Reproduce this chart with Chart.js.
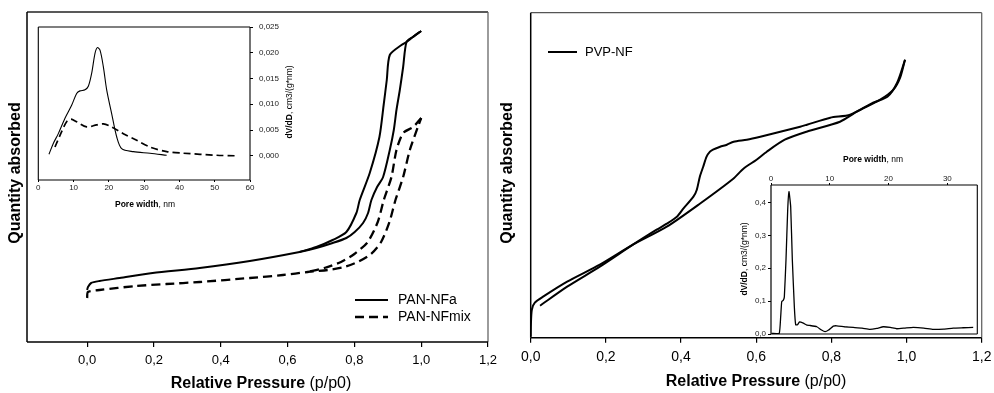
<!DOCTYPE html>
<html>
<head>
<meta charset="utf-8">
<script src="https://cdn.jsdelivr.net/npm/chart.js@4/dist/chart.umd.min.js"></script>
<style>
  html, body { margin: 0; padding: 0; background: #fff; }
  #wrap { position: relative; width: 994px; height: 393px; overflow: hidden; background: #fff; }
  #wrap canvas { position: absolute; left: 0; top: 0; }
</style>
</head>
<body>
<div id="wrap">
  <canvas id="panMain" width="994" height="393"></canvas>
  <canvas id="panInset" width="994" height="393"></canvas>
  <canvas id="pvpMain" width="994" height="393"></canvas>
  <canvas id="pvpInset" width="994" height="393"></canvas>
</div>
<script>
// ---------- PAN isotherms (relative pressure vs. quantity absorbed, arbitrary units) ----------
const panaAdsP = [0, 0.0025, 0.012, 0.037, 0.097, 0.196, 0.337, 0.487, 0.636, 0.686, 0.735, 0.776, 0.801, 0.826, 0.841, 0.851, 0.868, 0.886, 0.906, 0.918, 0.926, 0.936, 0.946, 0.956, 0.975, 1.0];
const panaAdsQ = [52, 55, 59, 61, 64, 69, 74, 81, 90, 94, 99, 104, 110, 119, 129, 142, 155, 165, 192, 212, 232, 252, 275, 300, 305, 311];
const panaDesP = [1.0, 0.975, 0.956, 0.941, 0.906, 0.897, 0.888, 0.875, 0.846, 0.816, 0.806, 0.776, 0.735, 0.686, 0.636];
const panaDesQ = [311, 305, 300, 297, 287, 262, 238, 205, 169, 142, 129, 110, 102, 95, 90];

const panmixAdsP = [0, 0.0025, 0.037, 0.147, 0.237, 0.337, 0.487, 0.586, 0.66, 0.72, 0.77, 0.81, 0.85, 0.88, 0.905, 0.923, 0.946, 0.966, 0.99, 1.0];
const panmixAdsQ = [44, 50, 52, 56, 58, 60, 64, 67, 70, 72, 75, 80, 88, 100, 120, 142, 165, 192, 215, 224];
const panmixDesP = [1.0, 0.976, 0.946, 0.926, 0.911, 0.888, 0.87, 0.84, 0.80, 0.76, 0.71, 0.66];
const panmixDesQ = [224, 215, 209, 192, 165, 142, 120, 100, 88, 80, 74, 70];

// ---------- PAN pore size distribution ----------
const panaPoreW  = [3.02, 4.25, 5.67, 7.56, 9.45, 10.87, 11.81, 13.23, 14.18, 15.12, 16.07, 16.73, 17.49, 18.43, 19.38, 20.79, 22.21, 23.63, 26.94, 31.66, 36.39];
const panaPoreDV = [0.0003, 0.0024, 0.0043, 0.0073, 0.0098, 0.0121, 0.0126, 0.0128, 0.0135, 0.016, 0.0199, 0.021, 0.0205, 0.0173, 0.0128, 0.0082, 0.0037, 0.0014, 0.0008, 0.0005, 0.0001];
const panmixPoreW  = [4.73, 6.62, 8.03, 9.26, 10.87, 13.71, 16.54, 18.43, 20.79, 24.1, 27.88, 31.66, 36.39, 41.12, 50.57, 55.77];
const panmixPoreDV = [0.0017, 0.0047, 0.0066, 0.0071, 0.0066, 0.0056, 0.006, 0.0062, 0.0056, 0.0043, 0.003, 0.0017, 0.0008, 0.0005, 0.0001, 0.0];

// ---------- PVP isotherm ----------
const pvpBranch1P = [0, 0.0005, 0.003, 0.011, 0.033, 0.097, 0.184, 0.272, 0.362, 0.45, 0.539, 0.566, 0.601, 0.628, 0.676, 0.734, 0.823, 0.868, 0.93, 0.965, 0.983, 0.996];
const pvpBranch1Q = [1, 13, 28, 35, 41, 56, 73, 93, 111, 134, 159, 169, 178, 186, 198, 206, 216, 226, 238, 248, 260, 278];
const pvpBranch2P = [0.996, 0.975, 0.949, 0.911, 0.85, 0.797, 0.735, 0.717, 0.664, 0.611, 0.575, 0.54, 0.522, 0.504, 0.485, 0.477, 0.468, 0.459, 0.45, 0.442, 0.433, 0.406, 0.389, 0.362, 0.335, 0.272, 0.184, 0.097, 0.025];
const pvpBranch2Q = [278, 255, 241, 235, 223, 220, 213, 211, 206, 201, 198, 196, 193, 191, 188, 186, 181, 171, 161, 148, 141, 129, 121, 114, 108, 93, 71, 51, 32];

// ---------- PVP pore size distribution ----------
const pvpPoreW  = [0.1, 1.4, 1.65, 1.82, 2.1, 2.27, 2.55, 2.84, 3.06, 3.35, 3.63, 3.97, 4.2, 4.5, 4.85, 5.5, 6.1, 6.6, 7.8, 8.6, 9.2, 9.8, 10.6, 11.2, 12.5, 14.0, 15.5, 16.8, 18.0, 19.1, 20.3, 21.4, 22.8, 24.2, 26.0, 27.6, 29.4, 31.0, 32.7, 34.4];
const pvpPoreDV = [0.002, 0.002, 0.053, 0.098, 0.103, 0.113, 0.225, 0.377, 0.433, 0.387, 0.225, 0.083, 0.028, 0.028, 0.037, 0.033, 0.027, 0.026, 0.022, 0.012, 0.007, 0.012, 0.024, 0.025, 0.022, 0.020, 0.018, 0.014, 0.017, 0.022, 0.020, 0.016, 0.018, 0.020, 0.018, 0.014, 0.015, 0.018, 0.019, 0.020];

// ---------- tick values ----------
const pressureTicks = [0, 0.2, 0.4, 0.6, 0.8, 1.0, 1.2];
const panPoreTicks = [0, 10, 20, 30, 40, 50, 60];
const panDvTicks = [0, 0.005, 0.010, 0.015, 0.020, 0.025];
const pvpPoreTicks = [0, 10, 20, 30];
const pvpDvTicks = [0, 0.1, 0.2, 0.3, 0.4];

// ---------- labels ----------
const seriesNames = ['PAN-NFa', 'PAN-NFmix', 'PVP-NF'];
const yTitle = [['Quantity absorbed', true]];
const xTitle = [['Relative Pressure', true], [' (p/p0)', false]];
const poreTitle = [['Pore width', true], [', nm', false]];
const dvTitle = [['dV/dD', true], [', cm3/(g*nm)', false]];

const FONT = '"Liberation Sans", Arial, Helvetica, sans-serif';
Chart.defaults.font.family = FONT;
Chart.defaults.color = '#000';
Chart.defaults.animation = false;

const pts = (xs, ys) => xs.map((x, i) => ({ x: x, y: ys[i] }));
const comma = (v, d) => Number(v).toFixed(d).replace('.', ',');

function drawRich(ctx, t) {
  const fonts = t.parts.map(p => (p[1] ? 'bold ' : '') + t.size + 'px ' + FONT);
  const widths = [];
  let total = 0;
  t.parts.forEach((p, i) => { ctx.font = fonts[i]; const w = ctx.measureText(p[0]).width; widths.push(w); total += w; });
  ctx.save();
  ctx.translate(t.x, t.y);
  if (t.rot) ctx.rotate(t.rot * Math.PI / 180);
  ctx.textBaseline = 'middle';
  ctx.textAlign = 'left';
  ctx.fillStyle = '#000';
  let x = -total / 2;
  t.parts.forEach((p, i) => { ctx.font = fonts[i]; ctx.fillText(p[0], x, 0); x += widths[i]; });
  ctx.restore();
}

// frame around the plot area, axis titles and line-sample legend
const decor = {
  id: 'decor',
  afterDraw(chart, args, opts) {
    const ctx = chart.ctx;
    const a = chart.chartArea;
    ctx.save();
    const f = opts.frame || {};
    const edge = (c, x1, y1, x2, y2) => {
      if (!c) return;
      ctx.beginPath();
      ctx.strokeStyle = c[0];
      ctx.lineWidth = c[1];
      ctx.moveTo(x1, y1); ctx.lineTo(x2, y2);
      ctx.stroke();
    };
    edge(f.top, a.left, a.top, a.right, a.top);
    edge(f.right, a.right, a.top, a.right, a.bottom);
    edge(f.bottom, a.left, a.bottom, a.right, a.bottom);
    edge(f.left, a.left, a.top, a.left, a.bottom);
    (opts.texts || []).forEach(t => drawRich(ctx, t));
    (opts.legend || []).forEach(l => {
      const ds = chart.data.datasets[l.ds];
      ctx.beginPath();
      ctx.strokeStyle = ds.borderColor;
      ctx.lineWidth = ds.borderWidth;
      ctx.setLineDash(ds.borderDash || []);
      ctx.moveTo(l.x1, l.y); ctx.lineTo(l.x2, l.y);
      ctx.stroke();
      ctx.setLineDash([]);
      ctx.font = l.size + 'px ' + FONT;
      ctx.fillStyle = '#000';
      ctx.textBaseline = 'middle';
      ctx.textAlign = 'left';
      ctx.fillText(l.label, l.tx, l.y);
    });
    ctx.restore();
  }
};

const lineDs = (label, data, extra) => Object.assign({
  label: label, data: data, borderColor: '#000', borderWidth: 2,
  pointRadius: 0, fill: false, tension: 0.25
}, extra || {});

const setTicks = list => s => { s.ticks = list.map(v => ({ value: v })); };
const noPadH = h => s => { s.height = h; s.paddingLeft = 0; s.paddingRight = 0; };
const noPadW = w => s => { s.width = w; s.paddingTop = 0; s.paddingBottom = 0; };
const baseOpts = { responsive: false, animation: false, events: [] };

// ---------- PAN isotherm panel ----------
new Chart(document.getElementById('panMain'), {
  type: 'line',
  data: { datasets: [
    lineDs(seriesNames[0], pts(panaAdsP, panaAdsQ)),
    lineDs(seriesNames[0], pts(panaDesP, panaDesQ)),
    lineDs(seriesNames[1], pts(panmixAdsP, panmixAdsQ), { borderDash: [9, 5], borderWidth: 2.3 }),
    lineDs(seriesNames[1], pts(panmixDesP, panmixDesQ), { borderDash: [9, 5], borderWidth: 2.3 })
  ] },
  options: Object.assign({}, baseOpts, {
    layout: { padding: { left: 27, top: 12, right: 994 - 488, bottom: 0 } },
    scales: {
      x: {
        type: 'linear', min: -0.18, max: 1.2,
        afterBuildTicks: setTicks(pressureTicks), afterFit: noPadH(51),
        ticks: { callback: v => comma(v, 1), font: { size: 13 }, padding: 6, maxRotation: 0, autoSkip: false },
        grid: { drawOnChartArea: false, drawTicks: true, tickLength: 5, color: '#000', lineWidth: 1.2 },
        border: { display: false }
      },
      y: { type: 'linear', display: false, min: 0, max: 330 }
    },
    plugins: {
      legend: { display: false }, tooltip: { enabled: false },
      decor: {
        frame: { top: ['#222', 1.3], right: ['#666', 1.3], bottom: ['#000', 1.5], left: ['#000', 1.5] },
        texts: [
          { x: 16, y: 173, size: 16, rot: -90, parts: yTitle },
          { x: 261, y: 384, size: 16, parts: xTitle }
        ],
        legend: [
          { ds: 0, x1: 355, x2: 388, y: 300, tx: 398, size: 14, label: seriesNames[0] },
          { ds: 2, x1: 355, x2: 388, y: 317, tx: 398, size: 14, label: seriesNames[1] }
        ]
      }
    }
  }),
  plugins: [decor]
});

// ---------- PAN pore size inset ----------
new Chart(document.getElementById('panInset'), {
  type: 'line',
  data: { datasets: [
    lineDs(seriesNames[0], pts(panaPoreW, panaPoreDV), { borderWidth: 1.1, tension: 0.3 }),
    lineDs(seriesNames[1], pts(panmixPoreW, panmixPoreDV), { borderWidth: 1.7, borderDash: [7, 4], tension: 0.3 })
  ] },
  options: Object.assign({}, baseOpts, {
    layout: { padding: { left: 38.3, top: 27, right: 994 - 250 - 50, bottom: 393 - 180 - 35 } },
    scales: {
      x: {
        type: 'linear', position: 'bottom', min: 0, max: 60,
        afterBuildTicks: setTicks(panPoreTicks), afterFit: noPadH(35),
        ticks: { callback: v => String(v), font: { size: 8 }, padding: 1, maxRotation: 0, autoSkip: false, color: '#222' },
        grid: { drawOnChartArea: false, drawTicks: true, tickLength: 2, color: '#000' },
        border: { display: false }
      },
      y: {
        type: 'linear', position: 'right', min: -0.0047, max: 0.025,
        afterBuildTicks: setTicks(panDvTicks), afterFit: noPadW(50),
        ticks: { callback: v => comma(v, 3), font: { size: 8 }, padding: 6, autoSkip: false, color: '#222' },
        grid: { drawOnChartArea: false, drawTicks: true, tickLength: 3, color: '#000' },
        border: { display: false }
      }
    },
    plugins: {
      legend: { display: false }, tooltip: { enabled: false },
      decor: {
        frame: { top: ['#000', 1.1], right: ['#000', 1.1], bottom: ['#000', 1.1], left: ['#000', 1.1] },
        texts: [
          { x: 145, y: 205, size: 8.5, parts: poreTitle },
          { x: 290, y: 102, size: 8.5, rot: -90, parts: dvTitle }
        ]
      }
    }
  }),
  plugins: [decor]
});

// ---------- PVP isotherm panel ----------
new Chart(document.getElementById('pvpMain'), {
  type: 'line',
  data: { datasets: [
    lineDs(seriesNames[2], pts(pvpBranch1P, pvpBranch1Q)),
    lineDs(seriesNames[2], pts(pvpBranch2P, pvpBranch2Q))
  ] },
  options: Object.assign({}, baseOpts, {
    layout: { padding: { left: 530.7, top: 12.7, right: 994 - 981.7, bottom: 0 } },
    scales: {
      x: {
        type: 'linear', min: 0, max: 1.2,
        afterBuildTicks: setTicks(pressureTicks), afterFit: noPadH(393 - 337.7),
        ticks: { callback: v => comma(v, 1), font: { size: 14 }, padding: 6.5, maxRotation: 0, autoSkip: false },
        grid: { drawOnChartArea: false, drawTicks: true, tickLength: 5, color: '#000', lineWidth: 1.2 },
        border: { display: false }
      },
      y: { type: 'linear', display: false, min: 0, max: 325 }
    },
    plugins: {
      legend: { display: false }, tooltip: { enabled: false },
      decor: {
        frame: { top: ['#555', 1.3], right: ['#666', 1.3], bottom: ['#000', 1.5], left: ['#000', 1.5] },
        texts: [
          { x: 508, y: 173, size: 16, rot: -90, parts: yTitle },
          { x: 756, y: 382, size: 16, parts: xTitle }
        ],
        legend: [
          { ds: 0, x1: 548, x2: 577, y: 52, tx: 585, size: 13, label: seriesNames[2] }
        ]
      }
    }
  }),
  plugins: [decor]
});

// ---------- PVP pore size inset ----------
new Chart(document.getElementById('pvpInset'), {
  type: 'line',
  data: { datasets: [
    lineDs(seriesNames[2], pts(pvpPoreW, pvpPoreDV), { borderWidth: 1.3, tension: 0.12 })
  ] },
  options: Object.assign({}, baseOpts, {
    layout: { padding: { left: 741, top: 160, right: 994 - 977.3, bottom: 393 - 334 } },
    scales: {
      x: {
        type: 'linear', position: 'top', min: 0, max: 35.1,
        afterBuildTicks: setTicks(pvpPoreTicks), afterFit: noPadH(25),
        ticks: { callback: v => String(v), font: { size: 8, lineHeight: 1 }, padding: 0, maxRotation: 0, autoSkip: false, color: '#222' },
        grid: { drawOnChartArea: false, drawTicks: true, tickLength: 2, color: '#000' },
        border: { display: false }
      },
      y: {
        type: 'linear', position: 'left', min: 0, max: 0.453,
        afterBuildTicks: setTicks(pvpDvTicks), afterFit: noPadW(30),
        ticks: { callback: v => comma(v, 1), font: { size: 8 }, padding: 2, autoSkip: false, color: '#222' },
        grid: { drawOnChartArea: false, drawTicks: true, tickLength: 3, color: '#000' },
        border: { display: false }
      }
    },
    plugins: {
      legend: { display: false }, tooltip: { enabled: false },
      decor: {
        frame: { top: ['#000', 1.1], right: ['#000', 1.1], bottom: ['#000', 1.2], left: ['#000', 1.2] },
        texts: [
          { x: 873, y: 160, size: 8.5, parts: poreTitle },
          { x: 745, y: 259, size: 8.5, rot: -90, parts: dvTitle }
        ]
      }
    }
  }),
  plugins: [decor]
});
</script>
</body>
</html>
